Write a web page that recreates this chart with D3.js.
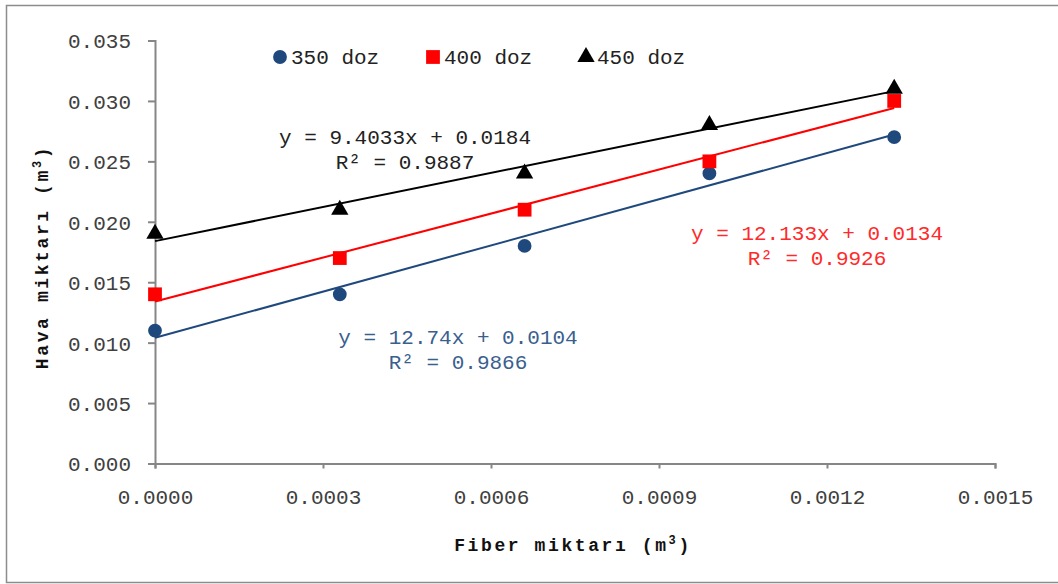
<!DOCTYPE html>
<html><head><meta charset="utf-8">
<script src="https://cdn.jsdelivr.net/npm/d3@7"></script>
<style>
html,body{margin:0;padding:0;background:#fff;}
svg text{font-family:"Liberation Mono","Courier New",monospace;}
</style></head>
<body>
<svg id="c" width="1058" height="584"></svg>
<script>
const xValues = [0, 0.00033, 0.00066, 0.00099, 0.00132];
const seriesNames = ["350 doz", "400 doz", "450 doz"];
const values350 = [0.011, 0.014, 0.018, 0.024, 0.027];
const values400 = [0.014, 0.017, 0.021, 0.025, 0.030];
const values450 = [0.019, 0.021, 0.024, 0.028, 0.031];
const slopes = [12.74, 12.133, 9.4033];
const intercepts = [0.0104, 0.0134, 0.0184];
const eqLabels = ["y = 12.74x + 0.0104", "y = 12.133x + 0.0134", "y = 9.4033x + 0.0184"];
const r2Labels = ["R² = 0.9866", "R² = 0.9926", "R² = 0.9887"];
const xTicks = [0, 0.0003, 0.0006, 0.0009, 0.0012, 0.0015];
const yTicks = [0, 0.005, 0.010, 0.015, 0.020, 0.025, 0.030, 0.035];

const svg = d3.select("#c");
const colors = ["#1F497D", "#FF0000", "#000000"];
const textColors = ["#3A5F8E", "#FF2A2A", "#222222"];
const shapes = [d3.symbolCircle, d3.symbolSquare, d3.symbolTriangle];
const sizes = [150, 190, 130];

svg.append("rect").attr("x", 6.5).attr("y", 5.5).attr("width", 1070).attr("height", 577)
  .attr("fill", "#fff").attr("stroke", "#8c8c8c").attr("stroke-width", 1.5);

const x = d3.scaleLinear().domain([0, 0.0015]).range([155, 995]);
const y = d3.scaleLinear().domain([0, 0.035]).range([463.5, 40.5]);

const axisColor = "#868686";
const tickColor = "#404040";

// y axis
const ya = svg.append("g").attr("transform", "translate(155,0)")
  .call(d3.axisLeft(y).tickValues(yTicks).tickSize(7).tickPadding(17).tickFormat(d3.format(".3f")));
// x axis
const xa = svg.append("g").attr("transform", "translate(0,463.5)")
  .call(d3.axisBottom(x).tickValues(xTicks).tickSize(5).tickPadding(21).tickFormat(d3.format(".4f")));
[ya, xa].forEach(g => {
  g.select(".domain").attr("stroke", axisColor).attr("stroke-width", 2);
  g.selectAll(".tick line").attr("stroke", axisColor).attr("stroke-width", 2);
  g.selectAll(".tick text").attr("fill", tickColor).style("font-size", "21px")
    .style("font-family", "'Liberation Mono','Courier New',monospace");
});
ya.selectAll(".tick text").attr("dy", "0.35em");

const allSeries = [values350, values400, values450];

// trendlines
allSeries.forEach((vals, i) => {
  const x0 = d3.min(xValues), x1 = d3.max(xValues);
  svg.append("line")
    .attr("x1", x(x0)).attr("y1", y(intercepts[i] + slopes[i] * x0))
    .attr("x2", x(x1)).attr("y2", y(intercepts[i] + slopes[i] * x1))
    .attr("stroke", colors[i]).attr("stroke-width", 2);
});

// markers
allSeries.forEach((vals, i) => {
  svg.append("g").selectAll("path").data(vals).join("path")
    .attr("transform", (d, j) => `translate(${x(xValues[j])},${y(d)})`)
    .attr("d", d3.symbol().type(shapes[i]).size(sizes[i]))
    .attr("fill", colors[i]);
});

// legend
const legendX = [280, 433, 586];
seriesNames.forEach((n, i) => {
  svg.append("path").attr("transform", `translate(${legendX[i]},57)`)
    .attr("d", d3.symbol().type(shapes[i]).size(sizes[i])).attr("fill", colors[i]);
  svg.append("text").attr("x", legendX[i] + 11).attr("y", 57).attr("dy", "0.35em")
    .style("font-size", "21px").attr("fill", "#222").text(n);
});

// equations
const eqPos = [[458, 337], [817, 233], [405, 137]];
eqLabels.forEach((t, i) => {
  svg.append("text").attr("x", eqPos[i][0]).attr("y", eqPos[i][1]).attr("dy", "0.35em")
    .attr("text-anchor", "middle").style("font-size", "21px").attr("fill", textColors[i]).text(t);
  svg.append("text").attr("x", eqPos[i][0]).attr("y", eqPos[i][1] + 25).attr("dy", "0.35em")
    .attr("text-anchor", "middle").style("font-size", "21px").attr("fill", textColors[i]).text(r2Labels[i]);
});

// axis titles
const xt = svg.append("text").attr("x", 573).attr("y", 551).attr("text-anchor", "middle")
  .style("font-size", "18px").style("font-weight", "bold").style("letter-spacing", "2.6px").attr("fill", "#111");
xt.append("tspan").text("Fiber miktarı (m");
xt.append("tspan").attr("dy", -7).style("font-size", "12px").text("3");
xt.append("tspan").attr("dy", 7).text(")");

const yt = svg.append("text").attr("transform", "translate(48,257) rotate(-90)").attr("text-anchor", "middle")
  .style("font-size", "18px").style("font-weight", "bold").style("letter-spacing", "2.6px").attr("fill", "#111");
yt.append("tspan").text("Hava miktarı (m");
yt.append("tspan").attr("dy", -7).style("font-size", "12px").text("3");
yt.append("tspan").attr("dy", 7).text(")");
</script>
</body></html>
